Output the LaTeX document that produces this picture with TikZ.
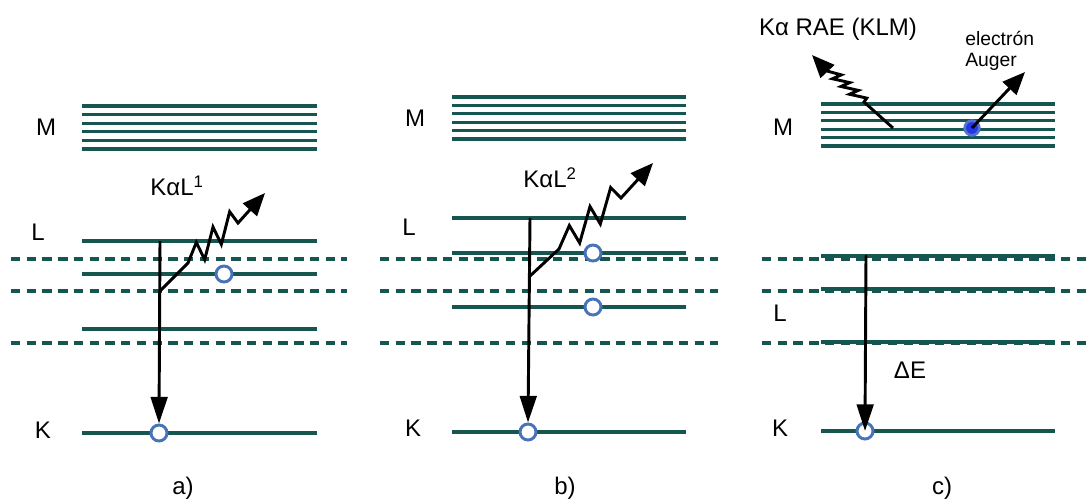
\documentclass[tikz,border=0pt]{standalone}
\usepackage{fontspec}
\setmainfont{Liberation Sans}
\usetikzlibrary{arrows.meta,calc}
\definecolor{lvl}{RGB}{22,86,80}
\definecolor{holeblue}{RGB}{70,115,185}
\definecolor{dotblue}{RGB}{35,55,235}
\definecolor{halo}{RGB}{85,115,205}
\begin{document}
\begin{tikzpicture}[x=0.75pt,y=-0.75pt,
  level/.style={draw=lvl,line width=2.3pt},
  dlevel/.style={draw=lvl,line width=2.3pt,dash pattern=on 7pt off 4.8pt},
  lbl/.style={font=\fontsize{18}{21}\selectfont,inner sep=0pt},
  small/.style={font=\fontsize{14.5}{16}\selectfont,inner sep=0pt,align=left},
  hole/.style={circle,draw=holeblue,line width=2.2pt,fill=white,minimum size=12pt,inner sep=0pt},
  trans/.style={draw=black,line width=2.2pt,-{Triangle[length=20pt,width=12.5pt]}},
  zz/.style={draw=black,line width=2.2pt,miter limit=5,-{Triangle[length=17pt,width=14pt]}},
]
\useasboundingbox (0,0) rectangle (1089,500);
% dashed levels
\foreach \y in {259,291,343}{
  \draw[dlevel] (11,\y) -- (347,\y);
  \draw[dlevel] (380,\y) -- (718,\y);
  \draw[dlevel] (762,\y) -- (1086,\y);
}
% panel a levels
\foreach \i in {0,...,5}{\draw[level] (82,106+8.6*\i) -- (317,106+8.6*\i);}
\foreach \y in {241,274,329,433}{\draw[level] (82,\y) -- (317,\y);}
% panel b levels
\foreach \i in {0,...,5}{\draw[level] (452,97+8.4*\i) -- (686,97+8.4*\i);}
\foreach \y in {218,253,307,432}{\draw[level] (452,\y) -- (686,\y);}
% panel c levels
\foreach \i in {0,...,5}{\draw[level] (821,104+8.4*\i) -- (1055,104+8.4*\i);}
\foreach \y in {256,289,342,431}{\draw[level] (821,\y) -- (1055,\y);}

% labels
\node[lbl] (Ma) at (46,127) {M};
\node[lbl] (La) at (38,232) {L};
\node[lbl] (Ka) at (43,430) {K};
\node[lbl] (Mb) at (415,118) {M};
\node[lbl] (Lb) at (409,227) {L};
\node[lbl] (Kb) at (413,428) {K};
\node[lbl] (Mc) at (783,127) {M};
\node[lbl] (Lc) at (780,313) {L};
\node[lbl] (Kc) at (780,428) {K};
\node[lbl] (dE) at (910,370) {ΔE};
\node[lbl] (kal1) at (177,186) {KαL\textsuperscript{1}};
\node[lbl] (kal2) at (550,178) {KαL\textsuperscript{2}};
\node[lbl] (rae) at (838,29) {Kα RAE (KLM)};
\node[small,anchor=west] (aug) at (965,51) {electrón\\Auger};
\node[lbl] (pa) at (183,488) {a)};
\node[lbl] (pb) at (565,488) {b)};
\node[lbl] (pc) at (942,488) {c)};

% holes
\node[hole] (ha1) at (224,274) {};
\node[hole] (hb1) at (593,253) {};
\node[hole] (hb2) at (593,307) {};

% panel a transitions
\coordinate (sa) at (160,241);
\coordinate (ja) at (160,291);
\coordinate (ta) at (265,193);
\coordinate (za0) at (188,263);
\coordinate (za1) at (238,217);
\node[hole] (hka) at (159,433) {};
\draw[trans] (sa) -- (hka.north);
\draw[zz] (ja) -- (za0)
  -- ($(za0)!0.1667!(za1)+(0,-13)$) -- ($(za0)!0.3333!(za1)+(0,12)$)
  -- ($(za0)!0.5!(za1)+(0,-13)$) -- ($(za0)!0.6667!(za1)+(0,12)$)
  -- ($(za0)!0.8333!(za1)+(0,-13)$) -- ($(za0)!1!(za1)+(0,6)$)
  -- (ta);

% panel b transitions
\coordinate (sb) at (530,218);
\coordinate (jb) at (530,276);
\coordinate (tb) at (653,163);
\coordinate (zb0) at (559,249);
\coordinate (zb1) at (621,192);
\node[hole] (hkb) at (528,432) {};
\draw[trans] (sb) -- (hkb.north);
\draw[zz] (jb) -- (zb0)
  -- ($(zb0)!0.1667!(zb1)+(0,-14)$) -- ($(zb0)!0.3333!(zb1)+(0,13)$)
  -- ($(zb0)!0.5!(zb1)+(0,-14)$) -- ($(zb0)!0.6667!(zb1)+(0,13)$)
  -- ($(zb0)!0.8333!(zb1)+(0,-14)$) -- ($(zb0)!1!(zb1)+(0,6)$)
  -- (tb);

% panel c transitions
\coordinate (sc) at (866,256);
\node[hole] (hkc) at (865,431) {};
\draw[trans,line cap=round] (sc) -- (hkc.center);
\coordinate (jc) at (893,128);
\coordinate (tc) at (812,55);
\coordinate (zc0) at (864,102);
\coordinate (zc1) at (830,71);
\draw[zz] (jc) -- (zc0)
  -- ($(zc0)!0.125!(zc1)+(7,0)$) -- ($(zc0)!0.25!(zc1)+(-6,0)$)
  -- ($(zc0)!0.375!(zc1)+(7,0)$) -- ($(zc0)!0.5!(zc1)+(-6,0)$)
  -- ($(zc0)!0.625!(zc1)+(7,0)$) -- ($(zc0)!0.75!(zc1)+(-6,0)$)
  -- ($(zc0)!0.875!(zc1)+(7,0)$) -- ($(zc0)!1!(zc1)+(-3,0)$)
  -- (tc);
\node[circle,fill=dotblue,draw=halo,line width=2pt,minimum size=11pt,inner sep=0pt] (ea) at (972,128) {};
\coordinate (tau) at (1025,72);
\draw[draw=black,line width=2.2pt,-{Triangle[length=17pt,width=14pt]}] (ea.center) -- (tau);
\end{tikzpicture}
\end{document}
